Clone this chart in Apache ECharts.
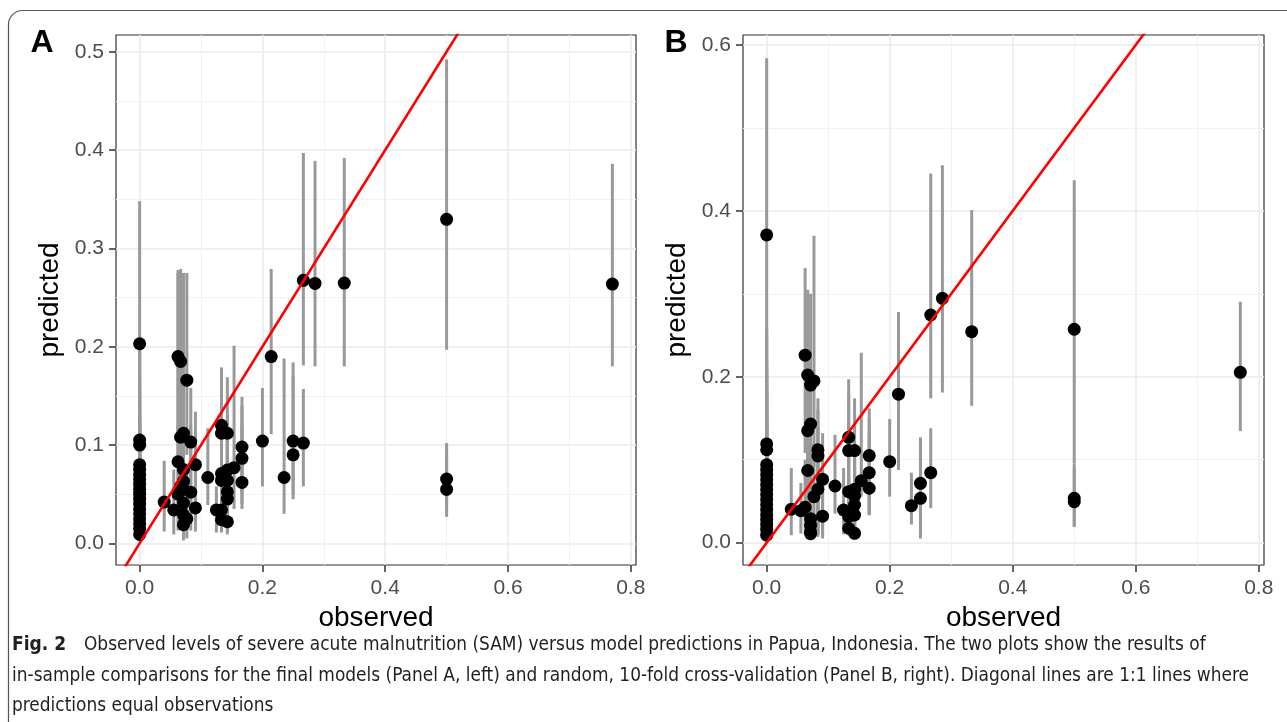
<!DOCTYPE html>
<html><head><meta charset="utf-8">
<script src="https://cdn.jsdelivr.net/npm/echarts@6/dist/echarts.min.js"></script>
<style>html,body{margin:0;padding:0;background:#fff}#c{width:1287px;height:722px}</style>
</head><body><div id="c"></div>
<script>
// ---------- DATA ----------
// Panel A: in-sample (observed, predicted, lower, upper)
const obsA = [
  0,0,0,0,0,0,0,0,0,0,0,0,0,0,0,0,0,0,
  0.04, 0.0556,
  0.0625,0.0625,0.0625,
  0.0667,0.0667,0.0667,
  0.0714,0.0714,0.0714,0.0714,0.0714,0.0714,0.0714,
  0.0769,0.0769,
  0.0833,0.0833,
  0.0909,0.0909,
  0.1111, 0.125,
  0.1333,0.1333,0.1333,0.1333,0.1333,0.1333,
  0.1429,0.1429,0.1429,0.1429,0.1429,0.1429,
  0.1538,
  0.1667,0.1667,0.1667,
  0.2, 0.2143, 0.2353,
  0.25,0.25,
  0.2667,0.2667,
  0.2857, 0.3333,
  0.5,0.5,0.5,
  0.77
];
const predA = [
  0.203,0.105,0.100,0.080,0.075,0.070,0.065,0.060,0.055,0.050,0.045,0.040,0.035,0.030,0.025,0.020,0.015,0.009,
  0.042, 0.034,
  0.190,0.083,0.050,
  0.185,0.108,0.058,
  0.112,0.075,0.063,0.055,0.041,0.029,0.019,
  0.166,0.025,
  0.103,0.052,
  0.080,0.036,
  0.067, 0.034,
  0.120,0.112,0.071,0.064,0.034,0.024,
  0.112,0.0745,0.064,0.0525,0.045,0.022,
  0.077,
  0.098,0.0865,0.062,
  0.104, 0.190, 0.067,
  0.104,0.090,
  0.2675,0.102,
  0.2644, 0.2647,
  0.3295,0.0654,0.0549,
  0.2637
];
const loA = [
  0.090,0.030,0.028,0.020,0.018,0.016,0.015,0.013,0.012,0.010,0.009,0.008,0.007,0.006,0.005,0.004,0.003,0.002,
  0.012, 0.009,
  0.110,0.030,0.013,
  0.105,0.040,0.015,
  0.050,0.025,0.020,0.015,0.010,0.006,0.003,
  0.090,0.005,
  0.040,0.013,
  0.020,0.012,
  0.039, 0.011,
  0.060,0.050,0.025,0.020,0.012,0.011,
  0.050,0.025,0.020,0.015,0.012,0.009,
  0.035,
  0.050,0.040,0.035,
  0.058, 0.111, 0.030,
  0.050,0.045,
  0.181,0.058,
  0.180, 0.180,
  0.197,0.035,0.027,
  0.180
];
const hiA = [
  0.348,0.210,0.200,0.170,0.160,0.150,0.140,0.130,0.125,0.115,0.105,0.098,0.090,0.080,0.070,0.060,0.050,0.040,
  0.084, 0.075,
  0.278,0.275,0.120,
  0.279,0.200,0.135,
  0.275,0.160,0.140,0.120,0.100,0.085,0.065,
  0.275,0.080,
  0.158,0.120,
  0.134,0.090,
  0.117, 0.058,
  0.179,0.170,0.130,0.120,0.080,0.070,
  0.169,0.130,0.120,0.110,0.100,0.060,
  0.201,
  0.149,0.140,0.120,
  0.158, 0.279, 0.188,
  0.184,0.170,
  0.397,0.157,
  0.389, 0.392,
  0.492,0.102,0.090,
  0.386
];

// Panel B: 10-fold cross-validation (observed, predicted, lower, upper)
const obsB = [
  0,0,0,0,0,0,0,0,0,0,0,0,0,0,0,0,0,0,
  0.04, 0.0556,
  0.0625,0.0625,
  0.0667,0.0667,0.0667,
  0.0714,0.0714,0.0714,0.0714,0.0714,0.0714,
  0.0769,0.0769,
  0.0833,0.0833,0.0833,
  0.0909,0.0909,
  0.1111, 0.125,
  0.1333,0.1333,0.1333,0.1333,0.1333,
  0.1429,0.1429,0.1429,0.1429,0.1429,0.1429,
  0.1538,
  0.1667,0.1667,0.1667,
  0.2, 0.2143, 0.2353,
  0.25,0.25,
  0.2667,0.2667,
  0.2857, 0.3333,
  0.5,0.5,0.5,
  0.77
];
const predB = [
  0.371,0.119,0.112,0.094,0.088,0.082,0.076,0.070,0.064,0.058,0.052,0.046,0.040,0.034,0.028,0.022,0.016,0.009,
  0.0403, 0.0386,
  0.226,0.0427,
  0.202,0.135,0.087,
  0.190,0.143,0.029,0.021,0.013,0.011,
  0.195,0.0555,
  0.112,0.1045,0.0644,
  0.0764,0.032,
  0.0683, 0.0394,
  0.127,0.111,0.0615,0.0313,0.0174,
  0.111,0.0644,0.0563,0.0454,0.0334,0.0113,
  0.0747,
  0.105,0.0844,0.0656,
  0.0977, 0.179, 0.0446,
  0.0716,0.0535,
  0.2745,0.0844,
  0.2946, 0.2544,
  0.2573,0.0535,0.0494,
  0.2054
];
const loB = [
  0.170,0.030,0.028,0.022,0.020,0.018,0.016,0.014,0.012,0.011,0.010,0.008,0.007,0.006,0.005,0.004,0.003,0.002,
  0.009, 0.011,
  0.108,0.010,
  0.100,0.015,0.020,
  0.080,0.003,0.005,0.004,0.003,0.003,
  0.092,0.010,
  0.007,0.010,0.010,
  0.009,0.005,
  0.035, 0.010,
  0.009,0.030,0.015,0.010,0.009,
  0.009,0.015,0.012,0.010,0.009,0.009,
  0.0555,
  0.033,0.035,0.034,
  0.0555, 0.0876, 0.022,
  0.005,0.010,
  0.174,0.0416,
  0.181, 0.165,
  0.0957,0.019,0.020,
  0.1345
];
const hiB = [
  0.584,0.260,0.250,0.220,0.210,0.200,0.190,0.180,0.170,0.160,0.150,0.140,0.125,0.110,0.095,0.080,0.065,0.050,
  0.090, 0.072,
  0.331,0.100,
  0.305,0.250,0.200,
  0.300,0.216,0.090,0.075,0.060,0.055,
  0.370,0.120,
  0.174,0.160,0.140,
  0.132,0.090,
  0.130, 0.090,
  0.197,0.180,0.120,0.080,0.060,
  0.174,0.120,0.110,0.100,0.080,0.050,
  0.229,
  0.162,0.150,0.130,
  0.149, 0.278, 0.0844,
  0.127,0.110,
  0.445,0.138,
  0.455, 0.401,
  0.437,0.0957,0.090,
  0.2905
];

// Tick labels
const xTicks  = [0, 0.2, 0.4, 0.6, 0.8];
const yTicksA = [0, 0.1, 0.2, 0.3, 0.4, 0.5];
const yTicksB = [0, 0.2, 0.4, 0.6];
const diagonal = [-1, 1];   // 1:1 line, y = x

const panelLabels = ['A', 'B'];
const xTitle = 'observed';
const yTitle = 'predicted';
const captionBold = 'Fig. 2';
const captionLines = [
  'Observed levels of severe acute malnutrition (SAM) versus model predictions in Papua, Indonesia. The two plots show the results of',
  'in-sample comparisons for the final models (Panel A, left) and random, 10-fold cross-validation (Panel B, right). Diagonal lines are 1:1 lines where',
  'predictions equal observations'
];

// ---------- CHART ----------
const FONT = '"Liberation Sans", Arial, sans-serif';
const CAPFONT = '"Liberation Sans Narrow", "DejaVu Sans Condensed", sans-serif';
const chart = echarts.init(document.getElementById('c'), null, {renderer: 'canvas'});

function xAxisCfg(gi) {
  return {
    type: 'value', gridIndex: gi, min: -0.0385, max: 0.8085, splitNumber: 5,
    name: xTitle, nameLocation: 'middle', nameGap: 33,
    nameTextStyle: {fontFamily: FONT, fontSize: 28, color: '#000'},
    axisLine: {show: false, onZero: false},
    axisTick: {show: true, length: 7, customValues: xTicks, lineStyle: {color: '#333', width: 1.5}},
    axisLabel: {customValues: xTicks, formatter: v => v.toFixed(1), fontFamily: FONT, fontSize: 21, color: '#4d4d4d', margin: 13},
    splitLine: {show: true, lineStyle: {color: '#ebebeb', width: 1.6}},
    minorTick: {show: false, splitNumber: 2},
    minorSplitLine: {show: true, lineStyle: {color: '#f2f2f2', width: 1}}
  };
}
function yAxisCfg(gi, min, max, split, ticks) {
  return {
    type: 'value', gridIndex: gi, min: min, max: max, splitNumber: split,
    name: yTitle, nameLocation: 'middle', nameGap: 52,
    nameTextStyle: {fontFamily: FONT, fontSize: 28, color: '#000'},
    axisLine: {show: false, onZero: false},
    axisTick: {show: true, length: 7, customValues: ticks, lineStyle: {color: '#333', width: 1.5}},
    axisLabel: {customValues: ticks, formatter: v => v.toFixed(1), fontFamily: FONT, fontSize: 21, color: '#4d4d4d', margin: 12},
    splitLine: {show: true, lineStyle: {color: '#ebebeb', width: 1.6}},
    minorTick: {show: false, splitNumber: 2},
    minorSplitLine: {show: true, lineStyle: {color: '#f2f2f2', width: 1}}
  };
}

function errBar(params, api) {
  const x = api.value(0);
  const p1 = api.coord([x, api.value(1)]);
  const p2 = api.coord([x, api.value(2)]);
  return {type: 'line', shape: {x1: p1[0], y1: p1[1], x2: p2[0], y2: p2[1]},
          style: {stroke: '#999999', lineWidth: 3}};
}

function panelSeries(idx, obs, pred, lo, hi) {
  return [
    {type: 'custom', xAxisIndex: idx, yAxisIndex: idx, renderItem: errBar, clip: true, z: 1,
     encode: {x: 0, y: [1, 2]},
     data: obs.map((o, i) => [o, lo[i], hi[i]])},
    {type: 'scatter', xAxisIndex: idx, yAxisIndex: idx, symbolSize: 13, z: 2,
     itemStyle: {color: '#000', opacity: 1},
     data: obs.map((o, i) => [o, pred[i]])},
    {type: 'line', xAxisIndex: idx, yAxisIndex: idx, clip: true, z: 3, symbol: 'none',
     lineStyle: {color: '#ff0000', width: 2.6},
     data: diagonal.map(d => [d, d])}
  ];
}

const option = {
  animation: false,
  backgroundColor: '#ffffff',
  grid: [
    {left: 116, top: 35, width: 520, height: 530, show: true, borderColor: '#333', borderWidth: 1.2, backgroundColor: '#fff'},
    {left: 743, top: 35, width: 521, height: 530, show: true, borderColor: '#333', borderWidth: 1.2, backgroundColor: '#fff'}
  ],
  xAxis: [xAxisCfg(0), xAxisCfg(1)],
  yAxis: [
    yAxisCfg(0, -0.022, 0.517, 5, yTicksA),
    yAxisCfg(1, -0.0269, 0.612, 3, yTicksB)
  ],
  series: [].concat(
    panelSeries(0, obsA, predA, loA, hiA),
    panelSeries(1, obsB, predB, loB, hiB)
  ),
  graphic: [
    {type: 'rect', silent: true, z: -10, shape: {x: 8.5, y: 10.5, width: 1400, height: 800, r: 14},
     style: {fill: 'none', stroke: '#555', lineWidth: 1.2}},
    {type: 'text', x: 42, y: 43, style: {text: panelLabels[0], fontFamily: FONT, fontWeight: 'bold', fontSize: 32, fill: '#000', align: 'center', verticalAlign: 'middle'}},
    {type: 'text', x: 676, y: 43, style: {text: panelLabels[1], fontFamily: FONT, fontWeight: 'bold', fontSize: 32, fill: '#000', align: 'center', verticalAlign: 'middle'}},
    {type: 'text', x: 12, y: 645, style: {text: captionBold, fontFamily: CAPFONT, fontWeight: 'bold', fontSize: 19, fill: '#231f20', align: 'left', verticalAlign: 'middle'}},
    {type: 'text', x: 84, y: 645, style: {text: captionLines[0], fontFamily: CAPFONT, fontSize: 18.9, fill: '#231f20', align: 'left', verticalAlign: 'middle'}},
    {type: 'text', x: 12, y: 676, style: {text: captionLines[1], fontFamily: CAPFONT, fontSize: 18.9, fill: '#231f20', align: 'left', verticalAlign: 'middle'}},
    {type: 'text', x: 12, y: 706, style: {text: captionLines[2], fontFamily: CAPFONT, fontSize: 18.9, fill: '#231f20', align: 'left', verticalAlign: 'middle'}}
  ]
};
chart.setOption(option);
</script>
</body></html>
